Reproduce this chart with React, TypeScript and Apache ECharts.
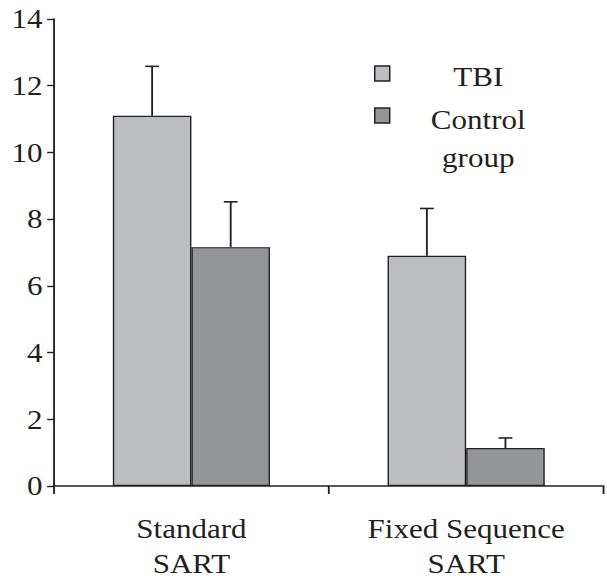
import React, { useEffect, useRef } from "react";
import * as echarts from "echarts";

const categories = ["Standard\nSART", "Fixed Sequence\nSART"];
const seriesNames = ["TBI", "Control\ngroup"];
const tbiValues = [11.1, 6.9];
const tbiErrors = [1.48, 1.42];
const controlValues = [7.16, 1.14];
const controlErrors = [1.36, 0.3];
const yTicks = [0, 2, 4, 6, 8, 10, 12, 14];

const colors = ["#bcbdc1", "#939598"];
const ink = "#231f20";
const font = "'Times New Roman', Tinos, 'Liberation Serif', 'DejaVu Serif'";
const BAR_FRAC = 0.286;

export default function App() {
  const ref = useRef<HTMLDivElement>(null);
  useEffect(() => {
    if (!ref.current) return;
    const chart = echarts.init(ref.current, undefined, { renderer: "svg" });
    const errSeries = (vals: number[], errs: number[], side: number, name: string) => ({
      type: "custom",
      name: name + " error",
      silent: true,
      z: 1,
      data: vals.map((v, i) => [i, v, errs[i]]),
      renderItem: (params: any, api: any) => {
        const idx = api.value(0);
        const v = api.value(1);
        const e = api.value(2);
        const band = api.size([1, 0])[0];
        const off = side * band * BAR_FRAC / 2;
        const p0 = api.coord([idx, v]);
        const p1 = api.coord([idx, v + e]);
        const x = p0[0] + off;
        const cap = 6;
        return {
          type: "group",
          children: [
            { type: "line", shape: { x1: x, y1: p0[1], x2: x, y2: p1[1] }, style: { stroke: ink, lineWidth: 1.6 } },
            { type: "line", shape: { x1: x - cap, y1: p1[1], x2: x + cap, y2: p1[1] }, style: { stroke: ink, lineWidth: 1.6 } },
          ],
        };
      },
    });
    const legendX = 326;
    chart.setOption({
      animation: false,
      textStyle: { fontFamily: font },
      grid: { left: 47, right: 3, top: 19, bottom: 93, containLabel: false, outerBoundsMode: "none" },
      xAxis: {
        type: "category",
        data: categories,
        axisLine: { lineStyle: { color: ink, width: 1.6 } },
        axisTick: { show: true, length: 8, lineStyle: { color: ink, width: 1.6 } },
        axisLabel: { color: ink, fontFamily: font, fontSize: 27, lineHeight: 35, margin: 25, interval: 0 },
      },
      yAxis: {
        type: "value",
        min: yTicks[0],
        max: yTicks[yTicks.length - 1],
        interval: 2,
        splitLine: { show: false },
        axisLine: { show: true, lineStyle: { color: ink, width: 1.6 } },
        axisTick: { show: true, length: 6, lineStyle: { color: ink, width: 1.4 } },
        axisLabel: { color: ink, fontFamily: font, fontSize: 27, margin: 10 },
      },
      series: [
        {
          type: "bar",
          name: seriesNames[0],
          data: tbiValues,
          barWidth: BAR_FRAC * 100 + "%",
          barGap: "0%",
          itemStyle: { color: colors[0], borderColor: ink, borderWidth: 1.2 },
          z: 2,
        },
        {
          type: "bar",
          name: seriesNames[1],
          data: controlValues,
          barWidth: BAR_FRAC * 100 + "%",
          barGap: "0%",
          itemStyle: { color: colors[1], borderColor: ink, borderWidth: 1.2 },
          z: 2,
        },
        errSeries(tbiValues, tbiErrors, -1, seriesNames[0]),
        errSeries(controlValues, controlErrors, 1, seriesNames[1]),
      ],
      graphic: [
        { type: "rect", shape: { x: legendX, y: 66, width: 13, height: 15 }, style: { fill: colors[0], stroke: ink, lineWidth: 1.3 } },
        { type: "rect", shape: { x: legendX, y: 108, width: 13, height: 15 }, style: { fill: colors[1], stroke: ink, lineWidth: 1.3 } },
        {
          type: "text",
          x: 416,
          y: 77,
          style: { text: seriesNames[0], fill: ink, fontFamily: font, fontSize: 27, textAlign: "center", textVerticalAlign: "middle" },
        },
        {
          type: "text",
          x: 416,
          y: 139,
          style: { text: seriesNames[1], fill: ink, fontFamily: font, fontSize: 27, lineHeight: 38, textAlign: "center", textVerticalAlign: "middle" },
        },
      ],
    });
    return () => chart.dispose();
  }, []);
  return (
    <div style={{ position: "fixed", left: 0, top: 0, width: 607, height: 579, overflow: "hidden", background: "#fff" }}>
      <div ref={ref} style={{ width: 528, height: 579, transform: "scaleX(1.1496)", transformOrigin: "0 0" }} />
    </div>
  );
}
